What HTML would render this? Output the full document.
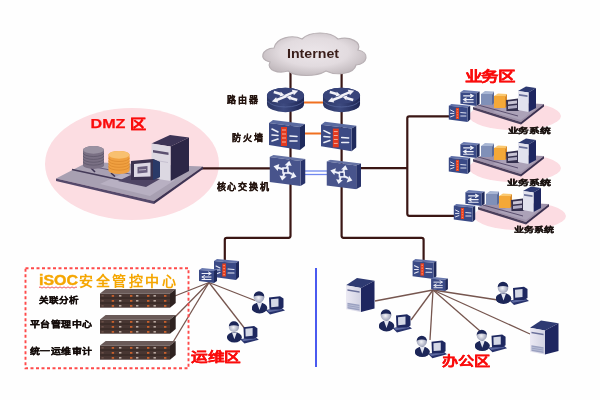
<!DOCTYPE html>
<html lang="zh-CN"><head><meta charset="utf-8">
<style>
html,body{margin:0;padding:0;background:#fefefe;width:600px;height:400px;overflow:hidden;}
svg{display:block;filter:blur(0.3px);font-family:"Liberation Sans",sans-serif;}
</style></head>
<body>
<svg width="600" height="400" viewBox="0 0 600 400">
<defs>
  <radialGradient id="gCloud" cx="0.5" cy="0.45" r="0.55">
    <stop offset="0" stop-color="#ece6ea"/><stop offset="0.6" stop-color="#e2dbdf"/><stop offset="1" stop-color="#c4bcc0"/>
  </radialGradient>
  <linearGradient id="gRouterSide" x1="0" y1="0" x2="1" y2="0">
    <stop offset="0" stop-color="#2a3462"/><stop offset="0.45" stop-color="#3d4a80"/><stop offset="1" stop-color="#1e2654"/>
  </linearGradient>
  <radialGradient id="gFace" cx="0.45" cy="0.55" r="0.6">
    <stop offset="0" stop-color="#f4f4f8"/><stop offset="1" stop-color="#8c92ac"/>
  </radialGradient>
  <linearGradient id="gTowerFront" x1="0" y1="0" x2="1" y2="0">
    <stop offset="0" stop-color="#eceaf4"/><stop offset="1" stop-color="#d2d2e2"/>
  </linearGradient>
  <!-- Router -->
  <symbol id="router" viewBox="0 0 40 26">
    <path d="M1,8.5 A19,8 0 0 1 39,8.5 V17 A19,8.5 0 0 1 1,17 Z" fill="url(#gRouterSide)"/>
    <path d="M1.5,14 A19,8 0 0 0 38.5,14" fill="none" stroke="#55649a" stroke-width="0.8"/>
    <ellipse cx="20" cy="8.5" rx="19" ry="8" fill="#38447a"/>
    <g fill="none" stroke="#f2f2f8" stroke-width="2.6" stroke-linecap="butt">
      <path d="M19,9 L28,5.2"/><path d="M21,9 L11,13"/>
      <path d="M8,4.8 L15,6.8"/><path d="M32,13 L25,11"/>
    </g>
    <g fill="#f2f2f8">
      <polygon points="33,3.6 26.5,2.6 28.6,8"/>
      <polygon points="6,14.6 12.5,15.6 10.4,10.2"/>
      <polygon points="19,8.2 14,9.4 15.2,4.6"/>
      <polygon points="21,9.6 26,8.4 24.8,13.2"/>
    </g>
  </symbol>
  <!-- Firewall (big) -->
  <symbol id="firewall" viewBox="0 0 36 30">
    <polygon points="0,3 4,0 36,4 31,7" fill="#5a6aa0"/>
    <polygon points="31,7 36,4 36,26 31,30" fill="#1f2a5c"/>
    <polygon points="0,3 31,7 31,30 0,25" fill="#3c4a84"/>
    <rect x="12" y="7" width="6" height="19" fill="#e23a20"/>
    <g stroke="#f8d0c0" stroke-width="0.8"><line x1="13" y1="10" x2="17" y2="10"/><line x1="13" y1="14" x2="17" y2="14"/><line x1="13" y1="18" x2="17" y2="18"/><line x1="13" y1="22" x2="17" y2="22"/></g>
    <g stroke="#eef0f8" stroke-width="1.6" stroke-linecap="round">
      <line x1="3" y1="9" x2="9" y2="12"/>
      <line x1="3" y1="15" x2="9" y2="15.5"/>
      <line x1="3" y1="21" x2="9" y2="19"/>
      <line x1="21" y1="16" x2="28" y2="16.5"/>
      <line x1="21" y1="21" x2="28" y2="21"/>
    </g>
  </symbol>
  <!-- Core switch -->
  <symbol id="switch" viewBox="0 0 36 31">
    <polygon points="0,2 4,0 36,4 31,6" fill="#6572a4"/>
    <polygon points="31,6 36,4 36,28 31,31" fill="#28336a"/>
    <polygon points="0,2 31,6 31,31 0,27" fill="#48548c"/>
    <g fill="none" stroke="#f0f2fa" stroke-width="2" stroke-linecap="butt">
      <path d="M13.5,14.2 L8.5,12.8"/><path d="M17.2,13 L18.6,9.5"/>
      <path d="M18.5,17.2 L22.5,19.2"/><path d="M14.8,18 L13.8,21.5"/>
    </g>
    <rect x="13.5" y="13" width="5" height="5" fill="#3a4680" stroke="#f0f2fa" stroke-width="1.6"/>
    <g fill="#f0f2fa">
      <polygon points="4,11.2 9.8,9 8.2,16"/>
      <polygon points="19.8,5.8 15.2,10.2 22.2,10.8"/>
      <polygon points="27,21.8 21,23.8 23.6,16.8"/>
      <polygon points="12.6,25.5 10,20.5 17,21.6"/>
    </g>
  </symbol>
  <!-- small firewall -->
  <symbol id="sfw" viewBox="0 0 25 21">
    <polygon points="0,2 3,0 25,2 22,4" fill="#6070a8"/>
    <polygon points="22,4 25,2 25,18 22,21" fill="#1f2a5c"/>
    <polygon points="0,2 22,4 22,21 0,18" fill="#3a4a86"/>
    <rect x="8.3" y="4.5" width="3.6" height="13" fill="#e8401e"/><g fill="#f89070"><rect x="9.3" y="6" width="1.6" height="1.2"/><rect x="9.3" y="9" width="1.6" height="1.2"/><rect x="9.3" y="12" width="1.6" height="1.2"/><rect x="9.3" y="15" width="1.6" height="1.2"/></g>
    <g stroke="#e8eaf6" stroke-width="1.1" stroke-linecap="round">
      <line x1="2" y1="7" x2="6" y2="9"/><line x1="2" y1="11" x2="6" y2="11"/><line x1="2" y1="15" x2="6" y2="13.5"/>
      <line x1="14" y1="10" x2="20" y2="10.5"/><line x1="14" y1="14" x2="20" y2="14"/>
    </g>
  </symbol>
  <!-- small switch -->
  <symbol id="ssw" viewBox="0 0 18 15">
    <polygon points="0,2 3,0 18,1.5 15,3" fill="#6a7ab0"/>
    <polygon points="15,3 18,1.5 18,13 15,15" fill="#1f2a5c"/>
    <polygon points="0,2 15,3 15,15 0,13" fill="#3a4a86"/>
    <g stroke="#eef0f8" stroke-width="1" stroke-linecap="round" fill="none">
      <path d="M3,5.5 H12 M9.5,4 L12,5.5 L9.5,7"/>
      <path d="M12,9 H3 M5.5,7.5 L3,9 L5.5,10.5"/>
      <path d="M3,11.5 H12"/>
    </g>
  </symbol>
  <!-- server tower -->
  <symbol id="tower" viewBox="0 0 30 36">
    <polygon points="0,7.4 11.4,0 29.5,2.8 15.5,10.2" fill="#2e3a72"/>
    <polygon points="15.5,10.2 29.5,2.8 29.5,31.4 15.5,35" fill="#1e2660"/>
    <polygon points="0,7.4 15.5,10.2 15.5,35 0,32.3" fill="url(#gTowerFront)"/>
    <polygon points="1.5,11.5 14,13.5 14,15.2 1.5,13.2" fill="#6a709a"/>
    <polygon points="1.5,25.5 14,27.5 14,33.5 1.5,31.5" fill="#9aa0c0"/>
    <g stroke="#d8dcea" stroke-width="0.5"><line x1="1.5" y1="27.5" x2="14" y2="29.5"/><line x1="1.5" y1="29.5" x2="14" y2="31.5"/></g>
  </symbol>
  <!-- user: person + monitor -->
  <symbol id="user" viewBox="0 0 34 24">
    <polygon points="13.5,19 29,16.5 33,19.5 18,23.5" fill="#27326c"/>
    <polygon points="15,19.3 28,17.2 30.5,18.8 17,21.2" fill="#8a98cc" opacity="0.55"/>
    <polygon points="17,6.5 28,5.2 31.5,7.5 31.5,16.5 28,18.5 17.5,18.5" fill="#1e2860"/>
    <polygon points="19,8.2 26.5,7.4 26.5,15.5 19.2,16.2" fill="#d4d8e6"/>
    <ellipse cx="7.5" cy="17" rx="7.8" ry="5.4" fill="#1c2658"/>
    <polygon points="5,12 10,12 7.5,19" fill="#e4e6f0"/>
    <circle cx="7" cy="6.2" r="5.3" fill="url(#gFace)"/>
    <path d="M1.7,5.6 A5.3,5.3 0 0 1 12.3,5.6 Q7,3.2 1.7,5.6Z" fill="#1c2658"/>
  </symbol>
  <!-- rack server -->
  <symbol id="rack" viewBox="0 0 80 19">
    <polygon points="4,4.5 9.6,0 79.7,0 74,4.5" fill="#6a5a58"/>
    <polygon points="74,4.5 79.7,0 79.7,14 74,18.7" fill="#2e2220"/>
    <rect x="4" y="4.5" width="70" height="14.2" fill="#483632"/>
    <g stroke="#2a1e1a" stroke-width="0.7"><line x1="4" y1="9" x2="74" y2="9"/><line x1="4" y1="14" x2="74" y2="14"/></g>
    <rect x="15.7" y="6.0" width="2.4" height="1.8" fill="#c8602c"/><rect x="34" y="6.0" width="2.4" height="1.8" fill="#c8602c"/><rect x="51" y="6.0" width="2.4" height="1.8" fill="#c8602c"/><rect x="68" y="6.0" width="2.4" height="1.8" fill="#c8602c"/><rect x="23" y="6.0" width="2.4" height="1.6" fill="#b8a8a0"/><rect x="40" y="6.0" width="2.4" height="1.6" fill="#b8a8a0"/><rect x="57.5" y="6.0" width="2.4" height="1.6" fill="#b8a8a0"/><rect x="5.5" y="6.0" width="2.2" height="1.6" fill="#6a5048"/><rect x="15.7" y="11.0" width="2.4" height="1.8" fill="#c8602c"/><rect x="34" y="11.0" width="2.4" height="1.8" fill="#c8602c"/><rect x="51" y="11.0" width="2.4" height="1.8" fill="#c8602c"/><rect x="68" y="11.0" width="2.4" height="1.8" fill="#c8602c"/><rect x="23" y="11.0" width="2.4" height="1.6" fill="#b8a8a0"/><rect x="40" y="11.0" width="2.4" height="1.6" fill="#b8a8a0"/><rect x="57.5" y="11.0" width="2.4" height="1.6" fill="#b8a8a0"/><rect x="5.5" y="11.0" width="2.2" height="1.6" fill="#6a5048"/><rect x="15.7" y="16.0" width="2.4" height="1.8" fill="#c8602c"/><rect x="34" y="16.0" width="2.4" height="1.8" fill="#c8602c"/><rect x="51" y="16.0" width="2.4" height="1.8" fill="#c8602c"/><rect x="68" y="16.0" width="2.4" height="1.8" fill="#c8602c"/><rect x="23" y="16.0" width="2.4" height="1.6" fill="#b8a8a0"/><rect x="40" y="16.0" width="2.4" height="1.6" fill="#b8a8a0"/><rect x="57.5" y="16.0" width="2.4" height="1.6" fill="#b8a8a0"/><rect x="5.5" y="16.0" width="2.2" height="1.6" fill="#6a5048"/>
  </symbol>
  <!-- disk stack -->
  <symbol id="diskO" viewBox="0 0 22 24">
    <path d="M0,4 A11,4 0 0 1 22,4 V20 A11,4 0 0 1 0,20 Z" fill="#f0a040"/>
    <ellipse cx="11" cy="4" rx="11" ry="4" fill="#f8c070"/>
    <g fill="none" stroke="#d8862a" stroke-width="0.7"><path d="M0,7 A11,4 0 0 0 22,7"/><path d="M0,10 A11,4 0 0 0 22,10"/><path d="M0,13 A11,4 0 0 0 22,13"/><path d="M0,16 A11,4 0 0 0 22,16"/></g>
  </symbol>
  <symbol id="diskG" viewBox="0 0 22 24">
    <path d="M0,4 A11,4 0 0 1 22,4 V20 A11,4 0 0 1 0,20 Z" fill="#7a7084"/>
    <ellipse cx="11" cy="4" rx="11" ry="4" fill="#9a92a2"/>
    <g fill="none" stroke="#5a5266" stroke-width="0.7"><path d="M0,7 A11,4 0 0 0 22,7"/><path d="M0,10 A11,4 0 0 0 22,10"/><path d="M0,13 A11,4 0 0 0 22,13"/><path d="M0,16 A11,4 0 0 0 22,16"/></g>
  </symbol>
  <symbol id="monitor" viewBox="0 0 30 28">
    <polygon points="2,3 26,0 28,18 4,21" fill="#2c2c44"/>
    <polygon points="5,5 24,3 25.5,16 6,18" fill="#e4e2ea"/>
    <rect x="9" y="9" width="12" height="4" fill="#8a8aa0"/>
    <polygon points="0,22 26,19 30,24 4,28" fill="#3a3850"/>
  </symbol>
  <!-- business platform group -->
  <symbol id="biz" viewBox="0 0 115 50">
    <ellipse cx="67" cy="31" rx="46" ry="14" fill="#fcdce2"/>
    <polygon points="25,22 38,17 96,19 73,37" fill="#9e92aa"/>
    <polygon points="25,22 73,37 73,39.5 25,24.5" fill="#4a3f5c"/>
    <polygon points="73,37 96,19 96,21.5 73,39.5" fill="#3a3050"/>
    <polygon points="45,27 73,35 88,24 62,19" fill="#aca2b8"/>
    <line x1="30" y1="20" x2="70" y2="31" stroke="#5a4e6e" stroke-width="1"/>
    <use href="#ssw" x="12" y="5" width="20" height="16"/>
    <polygon points="33,9 37,6 46,6.5 44,9.5" fill="#a8b6d4"/>
    <polygon points="44,9.5 46,6.5 46,18 44,20" fill="#5a6a98"/>
    <rect x="33" y="9" width="11" height="11" fill="#8090b8"/>
    <polygon points="46,11 50,8.5 59,9 57,11.5" fill="#fac870"/>
    <polygon points="57,11.5 59,9 59,21 57,23" fill="#d88a28"/>
    <rect x="46" y="11" width="11" height="12" fill="#f4a838"/>
    <polygon points="58,15 70,13.5 73,15.5 73,24 70,26 58.5,26" fill="#34304e"/>
    <polygon points="60,16.5 69,15.5 69,18.5 60,19.5" fill="#c8c4d4"/>
    <polygon points="60,21 69,20 69,23 60,24" fill="#b0acc4"/>
    <polygon points="70,6 78,1.5 88,3 80.5,7.5" fill="#2e3a72"/>
    <polygon points="80.5,7.5 88,3 88,23 80.5,27" fill="#1e2660"/>
    <polygon points="70,6 80.5,7.5 80.5,27 70,25" fill="#e2e2ee"/>
    <polygon points="71,9 79.5,10.3 79.5,12 71,10.8" fill="#6a709a"/>
    <use href="#sfw" x="0" y="19" width="23" height="18"/>
  </symbol>
</defs>

<!-- DMZ ellipse -->
<ellipse cx="132" cy="164" rx="87" ry="56" fill="#fcdde2"/>

<!-- network lines -->
<g stroke="#3a1614" stroke-width="2.2" fill="none" stroke-linejoin="round">
  <path d="M290.5,70 V235.8 Q290.5,237.8 288.5,237.8 H226.8 Q224.8,237.8 224.8,239.8 V262"/>
  <path d="M341.6,70 V235.8 Q341.6,237.8 343.6,237.8 H421.6 Q423.6,237.8 423.6,239.8 V262"/>
  <line x1="201" y1="168.4" x2="272" y2="168.4"/>
  <line x1="358" y1="168.2" x2="408" y2="168.2"/>
  <path d="M449,116.3 H409.3 Q407.3,116.3 407.3,118.3 V213.8 Q407.3,215.8 409.3,215.8 H454"/>
</g>
<line x1="303" y1="102.5" x2="324" y2="102.5" stroke="#f07020" stroke-width="2"/>
<line x1="304" y1="133.5" x2="322" y2="133.5" stroke="#f07020" stroke-width="2"/>
<line x1="305" y1="171" x2="327" y2="171" stroke="#7088ee" stroke-width="1.3"/>
<line x1="305" y1="174.5" x2="327" y2="174.5" stroke="#7088ee" stroke-width="1.3"/>

<!-- thin lines 运维 -->
<g stroke="#76564f" stroke-width="1.3">
  <line x1="209" y1="282.5" x2="171" y2="297.5"/>
  <line x1="209" y1="282.5" x2="172.5" y2="319.5"/>
  <line x1="209" y1="282.5" x2="172.5" y2="343"/>
  <line x1="209" y1="282.5" x2="255" y2="300.5"/>
  <line x1="209" y1="282.5" x2="245.5" y2="329.5"/>
</g>
<g stroke="#76564f" stroke-width="1.3">
  <line x1="433" y1="290" x2="375" y2="301"/>
  <line x1="433" y1="290" x2="411" y2="320"/>
  <line x1="433" y1="290" x2="430" y2="340"/>
  <line x1="433" y1="290" x2="498" y2="300"/>
  <line x1="433" y1="290" x2="480" y2="331"/>
  <line x1="433" y1="290" x2="530" y2="334"/>
</g>

<!-- cloud -->
<path d="M270,62 C258,60 262,48 274,48 C276,38 292,34 302,39 C310,31 330,31 338,39 C350,36 362,42 358,50 C370,52 368,64 356,65 C354,74 336,76 326,71 C316,77 296,77 288,71 C278,74 266,70 270,62 Z" fill="url(#gCloud)" stroke="#b8b0b4" stroke-width="1.2"/>
<text x="287" y="58" font-size="12.5" font-weight="bold" fill="#3a1e1a" textLength="52" lengthAdjust="spacingAndGlyphs">Internet</text>

<!-- core devices -->
<use href="#router" x="266" y="87" width="39" height="26"/>
<use href="#router" x="322" y="87" width="39" height="26"/>
<use href="#firewall" x="269" y="120" width="36" height="30"/>
<use href="#firewall" x="321" y="121" width="35.5" height="31"/>
<use href="#switch" x="269.5" y="155" width="36" height="31"/>
<use href="#switch" x="326.5" y="159.5" width="34.5" height="30"/>

<g font-size="9" font-weight="900" fill="#24140f" stroke="#24140f" stroke-width="0.25">
  <text x="227" y="103" textLength="31" lengthAdjust="spacing">路由器</text>
  <text x="231.5" y="141" textLength="31" lengthAdjust="spacing">防火墙</text>
  <text x="216.5" y="189.8" textLength="52" lengthAdjust="spacing">核心交换机</text>
</g>

<!-- DMZ platform -->
<polygon points="56,178.5 88,162 203,166.5 154,201" fill="#a8a0b2"/>
<polygon points="56,178.5 154,201 154,204 56,181" fill="#54486a"/>
<polygon points="154,201 203,166.5 203,169 154,204" fill="#3e3454"/>
<polygon points="100,184 150,196 175,180 130,170" fill="#b8b0c2"/>
<line x1="72" y1="169.5" x2="130" y2="182" stroke="#443a58" stroke-width="1.6"/>
<line x1="90" y1="166" x2="150" y2="178" stroke="#6a6080" stroke-width="1"/>
<line x1="91" y1="168" x2="95" y2="172" stroke="#3a3050" stroke-width="1.6"/>
<line x1="111" y1="173" x2="115" y2="176.5" stroke="#3a3050" stroke-width="1.6"/>
<use href="#diskG" x="83" y="146" width="21" height="23"/>
<use href="#diskO" x="108" y="151" width="22" height="23"/>
<!-- DMZ tower (purple) -->
<polygon points="151.5,143.5 170,135 189,137.5 170.5,146.5" fill="#3c3456"/>
<polygon points="170.5,146.5 189,137.5 189,171 170.5,181" fill="#2c2646"/>
<polygon points="151.5,143.5 170.5,146.5 170.5,181 151.5,178" fill="#dcd8e2"/>
<polygon points="153,150 168.5,152.5 168.5,155 153,152.5" fill="#5a5070"/>
<line x1="153" y1="160" x2="168" y2="162.5" stroke="#c0bacb" stroke-width="0.8"/>
<!-- DMZ monitor CRT -->
<polygon points="118,181 146,187 160,179 133,174" fill="#4e4464"/>
<polygon points="131,161 153,159 160,162 160,177 153,180 131,180" fill="#3a3250"/>
<polygon points="153,159 160,162 160,177 153,180" fill="#2a3a68"/>
<polygon points="134,164 150.5,162.5 150.5,176.5 134,177" fill="#dcd8e4"/>
<polygon points="137.5,167 147.5,166 147.5,172.5 137.5,173.5" fill="#6a6080"/>
<line x1="139" y1="170" x2="146" y2="169.5" stroke="#d0ccd8" stroke-width="0.8"/>
<text x="90.5" y="127.5" font-size="13" font-weight="900" fill="#fa0c0c" stroke="#fa0c0c" stroke-width="0.25" textLength="55.5" lengthAdjust="spacingAndGlyphs">DMZ 区</text>

<!-- business zone -->
<text x="464.5" y="81.3" font-size="13.5" font-weight="900" fill="#fa0c0c" stroke="#fa0c0c" stroke-width="0.25" textLength="50.5" lengthAdjust="spacingAndGlyphs">业务区</text>
<use href="#biz" x="448" y="85" width="115" height="50"/>
<use href="#biz" x="448" y="137" width="115" height="50"/>
<use href="#biz" x="453" y="185" width="115" height="50"/>
<g font-size="7" font-weight="900" fill="#1a1210" stroke="#1a1210" stroke-width="0.3">
  <text x="507.5" y="132.5" textLength="43" lengthAdjust="spacingAndGlyphs">业务系统</text>
  <text x="506.5" y="185" textLength="44" lengthAdjust="spacingAndGlyphs">业务系统</text>
  <text x="513.5" y="232" textLength="40" lengthAdjust="spacingAndGlyphs">业务系统</text>
</g>

<!-- ISOC -->
<rect x="25.5" y="268.2" width="163" height="100" fill="none" stroke="#ff4a4a" stroke-width="1.9" stroke-dasharray="3,2.5"/>
<text x="39" y="285.2" font-size="14" font-weight="bold" fill="#f5a600" stroke="#f5a600" stroke-width="0.4" textLength="39" lengthAdjust="spacingAndGlyphs">iSOC</text><text x="79" y="285.5" font-size="14" font-weight="900" fill="#f5a600" textLength="97" lengthAdjust="spacing">安全管控中心</text>
<path d="M39,287.5 q1,-1.2 2,0 t2,0 t2,0 t2,0 t2,0 t2,0 t2,0 t2,0 t2,0 t2,0 t2,0 t2,0 t2,0 t2,0 t2,0 t2,0 t2,0 t2,0 t2,0" fill="none" stroke="#f04848" stroke-width="0.9"/>
<use href="#rack" x="96" y="289" width="80" height="19"/>
<use href="#rack" x="96" y="315" width="80" height="19"/>
<use href="#rack" x="96" y="341" width="80" height="19"/>
<g font-size="8.5" font-weight="900" fill="#140c0a" stroke="#140c0a" stroke-width="0.25">
  <text x="38.5" y="303" textLength="40.5" lengthAdjust="spacingAndGlyphs">关联分析</text>
  <text x="29.5" y="327" textLength="63" lengthAdjust="spacingAndGlyphs">平台管理中心</text>
  <text x="29.5" y="354" textLength="63" lengthAdjust="spacingAndGlyphs">统一运维审计</text>
</g>

<!-- 运维区 devices -->
<use href="#sfw" x="214" y="259" width="25" height="21"/>
<use href="#ssw" x="199" y="268" width="18" height="15"/>
<use href="#user" x="252" y="291" width="34" height="24"/>
<use href="#user" x="227" y="321" width="33" height="23"/>
<text x="191" y="360.8" font-size="13" font-weight="900" fill="#fa0c0c" stroke="#fa0c0c" stroke-width="0.25" textLength="50" lengthAdjust="spacingAndGlyphs">运维区</text>

<!-- blue divider -->
<line x1="316" y1="268" x2="316" y2="367" stroke="#4a5af0" stroke-width="2"/>

<!-- 办公区 devices -->
<use href="#sfw" x="412" y="259" width="25" height="20"/>
<use href="#ssw" x="431" y="277" width="17" height="14"/>
<use href="#tower" x="346" y="276" width="29" height="39"/>
<use href="#tower" x="530" y="318" width="29" height="40"/>
<use href="#user" x="379" y="309" width="34" height="24"/>
<use href="#user" x="415" y="335" width="33" height="24"/>
<use href="#user" x="496" y="281" width="34" height="25"/>
<use href="#user" x="475" y="329" width="33" height="24"/>
<text x="441.5" y="365"  font-size="13" font-weight="900" fill="#fa0c0c" stroke="#fa0c0c" stroke-width="0.25" textLength="48.5" lengthAdjust="spacingAndGlyphs">办公区</text>

</svg>
</body></html>
